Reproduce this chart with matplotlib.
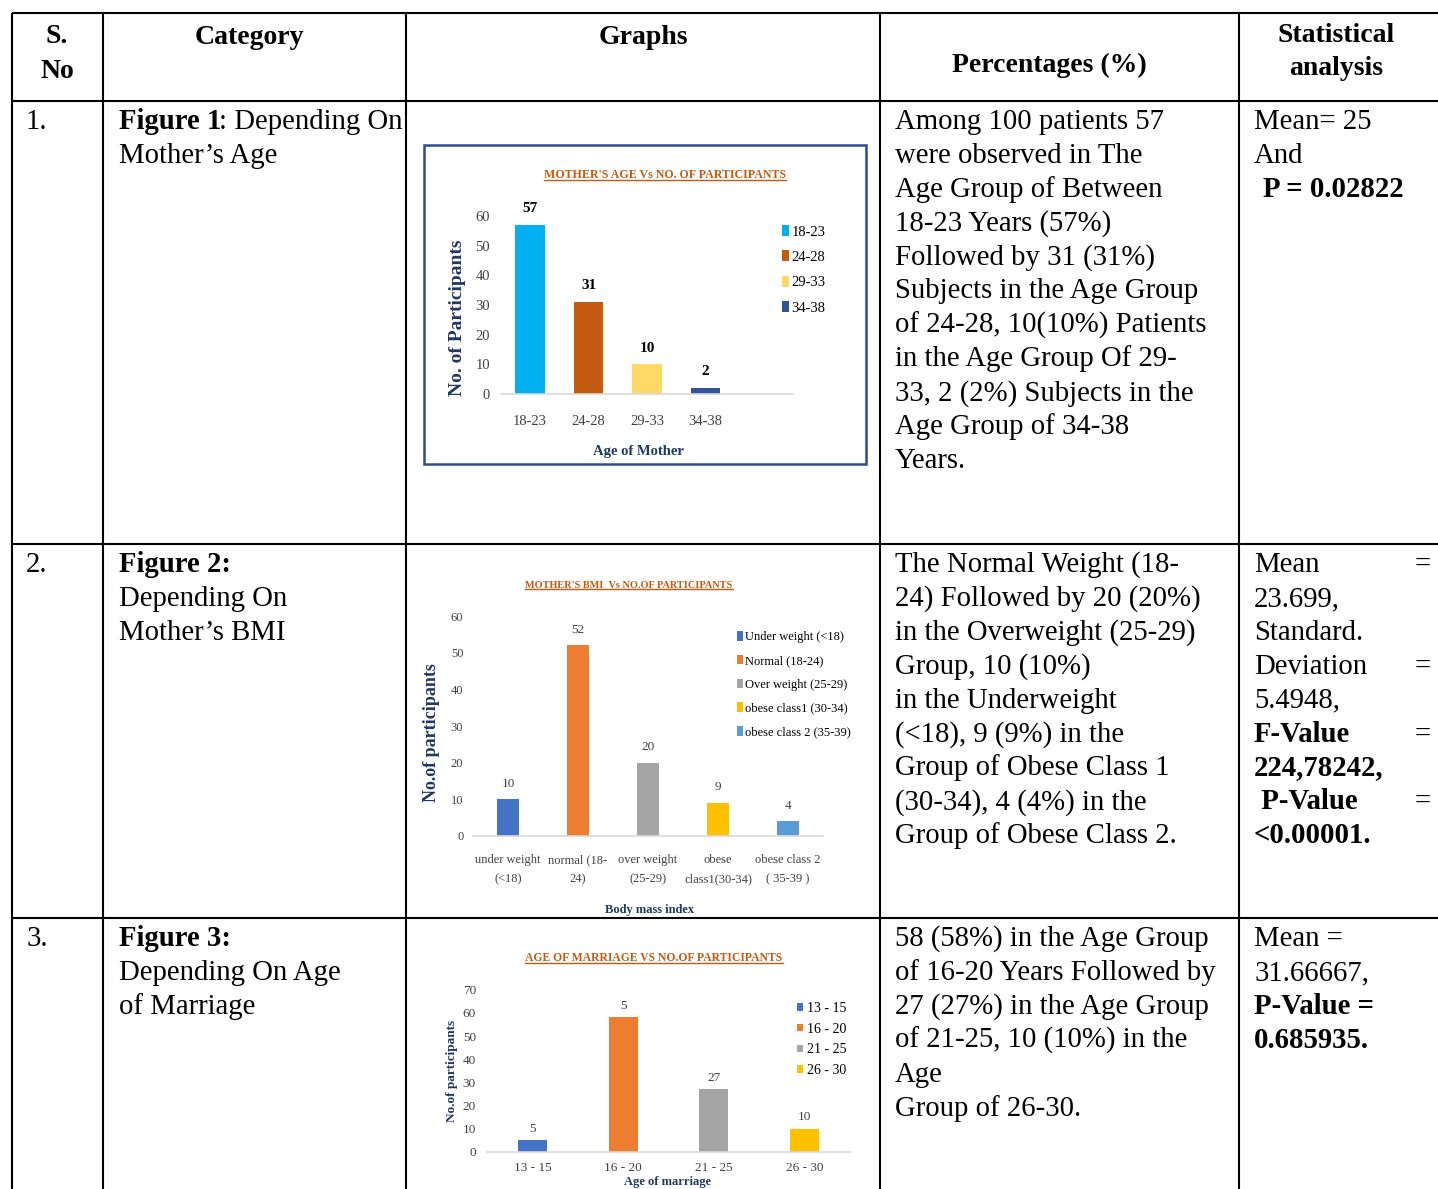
import matplotlib
matplotlib.use("Agg")
import matplotlib.pyplot as plt
from matplotlib.lines import Line2D
from matplotlib.patches import Rectangle
from matplotlib.transforms import IdentityTransform

# ---------------- data ----------------
age_groups = ["18-23", "24-28", "29-33", "34-38"]
age_counts = [57, 31, 10, 2]
age_colors = ["#00B0F0", "#C55A11", "#FFD966", "#2F5597"]

bmi_ticks = ["under weight\n(<18)", "normal (18-\n24)", "over weight\n(25-29)",
             "obese\nclass1(30-34)", "obese class 2\n( 35-39 )"]
bmi_legend = ["Under weight (<18)", "Normal (18-24)", "Over weight (25-29)",
              "obese class1 (30-34)", "obese class 2 (35-39)"]
bmi_counts = [10, 52, 20, 9, 4]
bmi_colors = ["#4472C4", "#ED7D31", "#A5A5A5", "#FFC000", "#5B9BD5"]

marriage_groups = ["13 - 15", "16 - 20", "21 - 25", "26 - 30"]
marriage_counts = [5, 58, 27, 10]
marriage_labels = ["5", "5", "27", "10"]
marriage_colors = ["#4472C4", "#ED7D31", "#A5A5A5", "#FFC000"]

row1_text = ["Among 100 patients 57", "were observed in The", "Age Group of Between",
             "18-23 Years (57%)", "Followed by 31 (31%)", "Subjects in the Age Group",
             "of 24-28, 10(10%) Patients", "in the Age Group Of 29-",
             "33, 2 (2%) Subjects in the", "Age Group of 34-38", "Years."]
row2_text = ["The Normal Weight (18-", "24) Followed by 20 (20%)", "in the Overweight (25-29)",
             "Group, 10 (10%)", "in the Underweight", "(<18), 9 (9%) in the",
             "Group of Obese Class 1", "(30-34), 4 (4%) in the", "Group of Obese Class 2."]
row3_text = ["58 (58%) in the Age Group", "of 16-20 Years Followed by",
             "27 (27%) in the Age Group", "of 21-25, 10 (10%) in the", "Age",
             "Group of 26-30."]

# ---------------- figure ----------------
plt.rcParams["font.family"] = ["Liberation Serif", "DejaVu Serif"]
W, H = 1438, 1189
fig = plt.figure(figsize=(W / 100, H / 100), dpi=100)
bg = fig.add_axes([0, 0, 1, 1])
bg.set_xlim(0, W)
bg.set_ylim(H, 0)
bg.axis("off")

# table grid
lw = 1.5
for x in [12, 103, 406, 880, 1239]:
    bg.plot([x, x], [13, H + 5], color="black", lw=lw, solid_capstyle="butt")
for y in [13, 101, 544, 918]:
    bg.plot([12, W + 5], [y, y], color="black", lw=lw, solid_capstyle="butt")

FS = 20.7
def T(x, y, s, bold=False, ha="left", size=FS, **kw):
    bg.text(x, y, s, ha=ha, va="baseline", fontsize=size,
            fontweight="bold" if bold else "normal", color="black", **kw)

# header
HS = 20
T(57, 43, "S.", True, "center", HS)
T(57, 78, "No", True, "center", HS)
T(249, 44, "Category", True, "center", HS)
T(643, 44, "Graphs", True, "center", HS)
T(1049, 72, "Percentages (%)", True, "center", HS)
T(1336, 42, "Statistical", True, "center", HS)
T(1336, 75, "analysis", True, "center", HS)

step = 33.9
# S. No
T(26, 129, "1.")
T(26, 572, "2.")
T(26, 946, "3.")
# Category
T(119, 129, "Figure 1", True)
T(219, 129, ": Depending On")
T(119, 129 + step, "Mother\u2019s Age")
T(119, 572, "Figure 2:", True)
T(119, 572 + step, "Depending On")
T(119, 572 + 2 * step, "Mother\u2019s BMI")
T(119, 946, "Figure 3:", True)
T(119, 946 + step, "Depending On Age")
T(119, 946 + 2 * step, "of Marriage")

# percentages column
for i, s in enumerate(row1_text):
    T(895, 129 + i * step, s)
for i, s in enumerate(row2_text):
    T(895, 572 + i * step, s)
for i, s in enumerate(row3_text):
    T(895, 946 + i * step, s)

# statistical analysis
T(1254, 129, "Mean= 25")
T(1254, 129 + step, "And")
T(1263, 129 + 2 * step, "P = 0.02822", True)

stats2 = [("Mean", False, True), ("23.699,", False, False), ("Standard.", False, False),
          ("Deviation", False, True), ("5.4948,", False, False), ("F-Value", True, True),
          ("224,78242,", True, False), (" P-Value", True, True), ("<0.00001.", True, False)]
for i, (s, b, eq) in enumerate(stats2):
    T(1254, 572 + i * step, s, b)
    if eq:
        T(1431, 572 + i * step, "=", False, "right")

T(1254, 946, "Mean =")
T(1254, 946 + step, "31.66667,")
T(1254, 946 + 2 * step, "P-Value =", True)
T(1254, 946 + 3 * step, "0.685935.", True)

# ---------------- charts ----------------
NAVY = "#1F3864"
TITLE_C = "#C55A11"
TICK_C = "#404040"

def ax_at(x0, y_top, x1, y_bot):
    return fig.add_axes([x0 / W, 1 - y_bot / H, (x1 - x0) / W, (y_bot - y_top) / H])

def style(ax, ymax, yticks, fs, ypad, xpad):
    ax.set_ylim(0, ymax)
    ax.set_yticks(yticks)
    for s in ["top", "right", "left"]:
        ax.spines[s].set_visible(False)
    ax.spines["bottom"].set_color("#D9D9D9")
    ax.spines["bottom"].set_linewidth(1.2)
    ax.tick_params(axis="both", length=0, labelsize=fs, colors=TICK_C)
    ax.tick_params(axis="y", pad=ypad)
    ax.tick_params(axis="x", pad=xpad)
    ax.set_facecolor("none")

titles = []

# Chart 1 : mother's age
bg.add_patch(Rectangle((424, 145), 442, 319, fill=False, edgecolor="#2F4B8F", lw=1.8))
ax1 = ax_at(501, 201, 793, 394)
x1 = list(range(len(age_groups)))
b1 = ax1.bar(x1, age_counts, width=0.51, color=age_colors)
ax1.set_xlim(-0.5, 4.5)
ax1.set_xticks(x1)
ax1.set_xticklabels(age_groups)
style(ax1, 65, range(0, 61, 10), 10.5, 8, 15)
ax1.bar_label(b1, labels=[str(v) for v in age_counts], padding=7,
              fontsize=11, fontweight="bold", color="black")
ax1.legend(list(b1.patches), age_groups, loc="upper left",
           bbox_to_anchor=(782, 225), bbox_transform=bg.transData,
           frameon=False, fontsize=10.5, handlelength=0.5, handleheight=0.8,
           handletextpad=0.15, labelspacing=0.80, borderpad=0, borderaxespad=0)
titles.append(bg.text(665, 175, "MOTHER'S AGE Vs NO. OF PARTICIPANTS", ha="center",
                      va="center", fontsize=8.6, fontweight="bold", color=TITLE_C))
bg.text(457, 318, "No. of Participants", rotation=90, ha="center", va="center",
        fontsize=14, fontweight="bold", color=NAVY)
bg.text(638, 451, "Age of Mother", ha="center", va="center", fontsize=10.5,
        fontweight="bold", color=NAVY)

# Chart 2 : BMI
ax2 = ax_at(473, 605, 823, 836)
x2 = list(range(len(bmi_ticks)))
b2 = ax2.bar(x2, bmi_counts, width=0.31, color=bmi_colors)
ax2.set_xlim(-0.5, 4.5)
ax2.set_xticks(x2)
ax2.set_xticklabels(bmi_ticks, linespacing=1.85)
style(ax2, 63, range(0, 61, 10), 9, 7, 13)
ax2.bar_label(b2, labels=[str(v) for v in bmi_counts], padding=7,
              fontsize=9.5, color=TICK_C)
ax2.legend(list(b2.patches), bmi_legend, loc="upper left",
           bbox_to_anchor=(737, 631), bbox_transform=bg.transData,
           frameon=False, fontsize=9, handlelength=0.5, handleheight=0.8,
           handletextpad=0.15, labelspacing=0.93, borderpad=0, borderaxespad=0)
titles.append(bg.text(629, 585, "MOTHER'S BMI  Vs NO.OF PARTICIPANTS", ha="center",
                      va="center", fontsize=7.4, fontweight="bold", color=TITLE_C))
bg.text(432, 733, "No.of participants", rotation=90, ha="center", va="center",
        fontsize=13, fontweight="bold", color=NAVY)
bg.text(650, 910, "Body mass index", ha="center", va="center", fontsize=9,
        fontweight="bold", color=NAVY)

# Chart 3 : age of marriage
ax3 = ax_at(487, 985, 850, 1152)
x3 = list(range(len(marriage_groups)))
b3 = ax3.bar(x3, marriage_counts, width=0.32, color=marriage_colors)
ax3.set_xlim(-0.5, 3.5)
ax3.set_xticks(x3)
ax3.set_xticklabels(marriage_groups)
style(ax3, 72, range(0, 71, 10), 9.5, 8, 7)
ax3.bar_label(b3, labels=marriage_labels, padding=4, fontsize=9.5, color=TICK_C)
ax3.legend(list(b3.patches), marriage_groups, loc="upper left",
           bbox_to_anchor=(797, 1002), bbox_transform=bg.transData,
           frameon=False, fontsize=10, handlelength=0.45, handleheight=0.45,
           handletextpad=0.3, labelspacing=0.55, borderpad=0, borderaxespad=0)
titles.append(bg.text(654, 958, "AGE OF MARRIAGE VS NO.OF PARTICIPANTS", ha="center",
                      va="center", fontsize=8.4, fontweight="bold", color=TITLE_C))
bg.text(452, 1071, "No.of participants", rotation=90, ha="center", va="center",
        fontsize=9.5, fontweight="bold", color=NAVY)
bg.text(668, 1188, "Age of marriage", ha="center", va="bottom", fontsize=9,
        fontweight="bold", color=NAVY)

# underline chart titles
fig.canvas.draw()
r = fig.canvas.get_renderer()
for t in titles:
    bb = t.get_window_extent(r)
    fig.add_artist(Line2D([bb.x0, bb.x1], [bb.y0 + 1, bb.y0 + 1], transform=IdentityTransform(),
                          color=TITLE_C, lw=1.0))

fig.savefig("out.png", dpi=100)
